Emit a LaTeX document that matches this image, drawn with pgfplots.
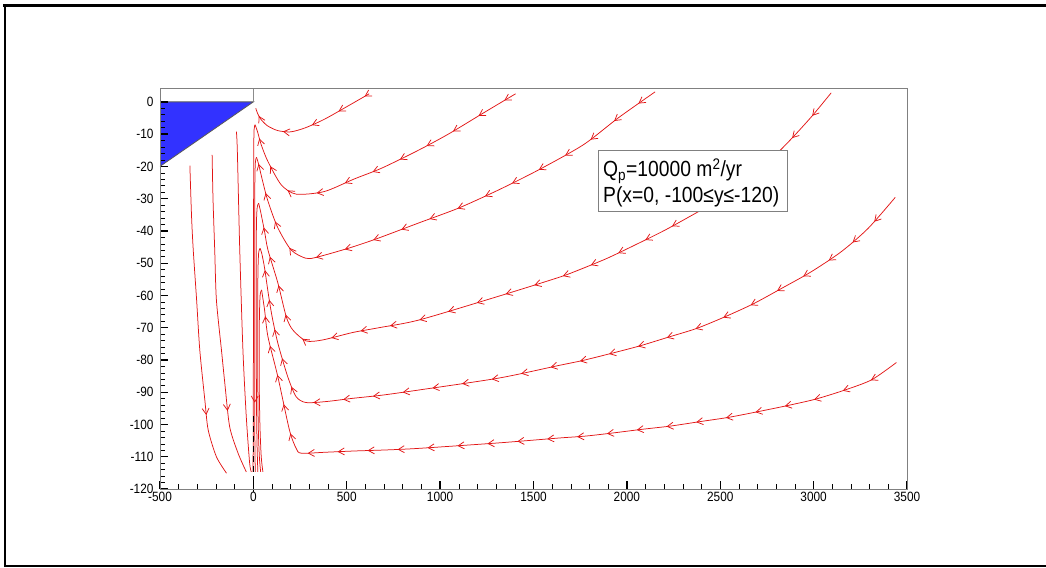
\documentclass[border=0pt]{standalone}
\usepackage{pgfplots}
\pgfplotsset{compat=1.18}
\usepackage{fontspec}
\setmainfont{Liberation Sans}
\newfontfamily\condfont{Liberation Sans}[FakeStretch=0.88]
\usetikzlibrary{arrows.meta,decorations.markings}
\definecolor{flow}{RGB}{226,22,22}
\definecolor{wedge}{RGB}{50,50,255}

\tikzset{
  flowarr/.style={decoration={markings,
      mark=between positions 0.04 and 0.99 step 30bp with {\arrow{Straight Barb[length=6bp,width=7bp]}}},
    postaction={decorate}},
  onearr/.style={decoration={markings,
      mark=at position #1 with {\arrow{Straight Barb[length=6bp,width=7bp]}}},
    postaction={decorate}},
}
\pgfplotsset{
  flowline/.style={flow, line width=0.75bp, smooth, tension=0.45, no marks},
}

\begin{document}
\begin{tikzpicture}[x=1bp,y=1bp]
\useasboundingbox (0,0) rectangle (1046,568);
% outer frame
\draw[line width=3bp] (3,562.5) -- (1046,562.5);
\draw[line width=2bp] (5,563) -- (5,1.5) -- (1046,1.5);

\begin{axis}[
  at={(160bp,79bp)}, anchor=south west,
  width=747bp, height=401bp, scale only axis,
  xmin=-500, xmax=3500, ymin=-120, ymax=4.3,
  xtick={-500,0,...,3500}, minor x tick num=4,
  ytick={-120,-110,...,0}, minor y tick num=4,
  tick pos=left, tick align=inside,
  major tick length=8bp, minor tick length=4.5bp,
  major tick style={black, line width=1.3bp},
  minor tick style={black, line width=0.6bp},
  axis line style={draw=black!50, line width=0.9bp},
  ticklabel style={font=\condfont\fontsize{13.5}{13.5}\selectfont},
  yticklabel style={xshift=-3bp},
  /pgf/number format/assume math mode=true,
  /pgf/number format/1000 sep={},
  clip=false, axis on top,
]
% inflow boundary wedge
\addplot[fill=wedge, draw=none] coordinates {(-500,0) (0,0) (-500,-20) (-500,0)};
\addplot[black!65, line width=0.8bp] coordinates {(-500,0) (0,0) (-500,-20)};
\addplot[black!45, line width=0.8bp] coordinates {(0,0) (0,4.3)};

% streamlines reaching the well from the right
\addplot[flowline, flowarr] coordinates {
  (620,2.5) (500,-1.5) (380,-5.4) (280,-8.0) (200,-9.3) (130,-8.9) (75,-7.4) (40,-5.4) (22,-3.5) (13,-2.0)};

\addplot[flowline, flowarr] coordinates {
  (1404,2.5) (1233,-3.4) (1047,-9.9) (887,-14.9) (689,-20.5) (540,-23.9) (380,-27.8) (229,-28.6)
  (149,-25.7) (78,-18.5) (42,-13.3) (22,-9.2) (9,-7.1)};
\addplot[flowline] coordinates {(9,-7.1) (4,-8.5) (2,-15) (1,-40) (0,-80) (-1,-105) (-2,-114.7)};

\addplot[flowline, flowarr] coordinates {
  (2151,3.1) (1953,-5.0) (1767,-13.3) (1527,-21.1) (1313,-27.3) (1100,-32.9) (887,-37.5) (657,-42.5)
  (513,-45.3) (343,-48.1) (282,-48.5) (202,-45.9) (129,-38.8) (76,-30.4) (45,-23.5) (28,-19.3) (17,-17.2)};
\addplot[flowline, onearr=0.78] coordinates {(17,-17.2) (11,-18.5) (8,-25) (7,-50) (7,-85) (8,-105) (10,-114.7)};

\addplot[flowline, flowarr] coordinates {
  (3094,2.8) (2990,-4.5) (2880,-11.5) (2760,-18.5) (2647,-24.0) (2520,-29.5) (2384,-34.0) (2206,-39.7)
  (2046,-44.3) (1894,-48.5) (1743,-52.1) (1636,-54.4) (1316,-60.2) (888,-67.6) (673,-70.0) (531,-71.5)
  (371,-73.8) (282,-74.1) (211,-70.7) (176,-66.6) (131,-56.1) (78,-45.9) (60,-40.2) (39,-34.1) (28,-31.4)};
\addplot[flowline] coordinates {(28,-31.4) (20,-33) (16,-40) (15,-70) (17,-95) (20,-107) (24,-114.7)};

\addplot[flowline, flowarr] coordinates {
  (3437,-29.6) (3292,-39.2) (3149,-46.4) (2989,-52.6) (2829,-57.8) (2677,-62.6) (2526,-66.6) (2375,-70.2)
  (2224,-72.9) (2072,-75.6) (1921,-77.9) (1761,-80.2) (1636,-81.7) (1316,-85.6) (888,-89.3)
  (691,-90.9) (531,-91.9) (389,-92.9) (282,-93.2) (229,-91.4) (184,-85.2) (131,-74.8) (100,-66.5)
  (80,-59.5) (60,-51.5) (45,-47) (36,-45.4)};
\addplot[flowline] coordinates {(36,-45.4) (28,-47) (24,-55) (23,-80) (26,-100) (32,-110) (39,-114.7)};

\addplot[flowline, flowarr] coordinates {
  (3443,-80.8) (3309,-86.2) (3158,-89.5) (3007,-92.2) (2855,-94.2) (2704,-96.0) (2544,-97.8) (2393,-99.1)
  (2233,-100.5) (2081,-101.5) (1930,-102.6) (1779,-103.6) (1636,-104.2) (1316,-105.7) (888,-107.4)
  (709,-107.9) (549,-108.2) (389,-108.6) (256,-108.9) (229,-107.4) (193,-101.7) (131,-85.2) (78,-72.8)
  (60,-64.5) (44,-58.3)};
\addplot[flowline] coordinates {(44,-58.3) (36,-60) (32,-68) (31,-85) (35,-100) (42,-110) (51,-114.7)};

% streamlines from the left boundary
\addplot[flowline, onearr=0.8] coordinates {
  (-340,-19.8) (-331,-35.6) (-322,-45.9) (-304,-61.4) (-287,-76.9) (-260,-92.4) (-242,-101.7) (-198,-110) (-144,-115.1)};
\addplot[flowline, onearr=0.8] coordinates {
  (-221,-16.4) (-216,-30.4) (-207,-45.9) (-198,-61.4) (-171,-76.9) (-153,-87.2) (-127,-100.7) (-82,-108.9) (-38,-114.7)};
\addplot[flowline] coordinates {
  (-91,-9.2) (-86,-15) (-73,-45.9) (-56,-76.9) (-38,-97.6) (-20,-112) (-11,-114.7)};

% well screen
\addplot[black, line width=1.6bp, dash pattern=on 6bp off 4bp] coordinates {(0,-97.5) (0,-121)};
\end{axis}

% annotation box
\draw[black!50, fill=white, line width=0.8bp] (598,357) rectangle (787,418);
\node[anchor=base west, inner sep=0, font=\condfont\fontsize{22}{22}\selectfont] at (603,391)
  {Q\textsubscript{p}=10000 m\textsuperscript{2}/yr};
\node[anchor=base west, inner sep=0, font=\condfont\fontsize{22}{22}\selectfont] at (603,365)
  {P(x=0, -100≤y≤-120)};
\end{tikzpicture}
\end{document}
